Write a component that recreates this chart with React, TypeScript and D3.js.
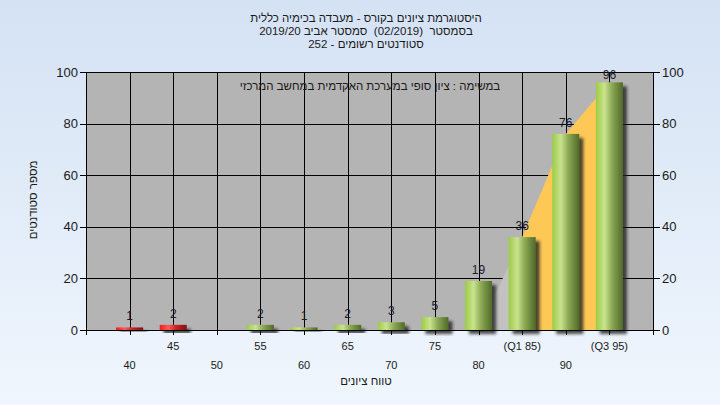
import React from 'react';
import * as d3 from 'd3';

const titleLines = [
  'היסטוגרמת ציונים בקורס - מעבדה בכימיה כללית',
  'בסמסטר  (02/2019)  סמסטר אביב 2019/20',
  'סטודנטים רשומים - 252',
];
const subtitle = 'במשימה : ציון סופי במערכת האקדמית במחשב המרכזי';
const yTitle = 'מספר סטודנטים';
const xTitle = 'טווח ציונים';

const grades = [40, 45, 50, 55, 60, 65, 70, 75, 80, 85, 90, 95];
const gradeLabels = ['40', '45', '50', '55', '60', '65', '70', '75', '80', '(Q1 85)', '90', '(Q3 95)'];
const counts = [1, 2, 0, 2, 1, 2, 3, 5, 19, 36, 76, 96];
const failingGrades = [40, 45, 50];
const yTicks = [0, 20, 40, 60, 80, 100];

// quartile band area series
const areaGrades = [80, 85, 90, 95];
const areaValues = [0, 36, 76, 96];
const q1Grade = 85;

const W = 720;
const H = 405;
const L = 86;
const R = 653;
const T = 72;
const B = 330;
const FONT = '"Liberation Sans", Arial, "DejaVu Sans", sans-serif';

export default function App() {
  const x = d3.scaleLinear().domain([35, 100]).range([L, R]);
  const y = d3.scaleLinear().domain([0, 100]).range([B, T]);
  const half = 1.55;

  const areaPts = areaGrades.map((g, i) => ({ g, v: areaValues[i] }));
  const areaGen = d3
    .area<{ g: number; v: number }>()
    .x((d) => x(d.g))
    .y0(y(0))
    .y1((d) => y(d.v));
  const greyPart = areaGen(areaPts.filter((d) => d.g <= q1Grade)) || '';
  const yellowPart = areaGen(areaPts.filter((d) => d.g >= q1Grade)) || '';

  const xTickVals = d3.range(35, 101, 5);

  return (
    <svg
      width={W}
      height={H}
      style={{ position: 'absolute', left: 0, top: 0, fontFamily: FONT }}
    >
      <defs>
        <linearGradient id="bg" x1="0" y1="0" x2="0" y2="1">
          <stop offset="0" stopColor="#d4e2f4" />
          <stop offset="1" stopColor="#f0f6fd" />
        </linearGradient>
        <linearGradient id="green" x1="0" y1="0" x2="1" y2="0">
          <stop offset="0" stopColor="#9ccb45" />
          <stop offset="0.32" stopColor="#c9e38e" />
          <stop offset="0.6" stopColor="#8aa854" />
          <stop offset="1" stopColor="#4f6a28" />
        </linearGradient>
        <linearGradient id="red" x1="0" y1="0" x2="1" y2="0">
          <stop offset="0" stopColor="#f01a1a" />
          <stop offset="0.32" stopColor="#ff5a5a" />
          <stop offset="0.6" stopColor="#c82424" />
          <stop offset="1" stopColor="#801010" />
        </linearGradient>
        <filter id="shadow" x="-20%" y="-20%" width="160%" height="160%">
          <feDropShadow dx="4" dy="4" stdDeviation="1.5" floodColor="#202020" floodOpacity="0.8" />
        </filter>
      </defs>

      <rect x={0} y={0} width={W} height={H} fill="url(#bg)" />
      <rect x={L} y={T} width={R - L} height={B - T} fill="#b4b4b4" />

      {/* grid */}
      {yTicks.map((t) => (
        <line key={'gy' + t} x1={L} x2={R} y1={Math.round(y(t)) + 0.5} y2={Math.round(y(t)) + 0.5} stroke="#000" strokeWidth={1} />
      ))}
      {grades.map((g) => (
        <line key={'gx' + g} x1={Math.round(x(g)) + 0.5} x2={Math.round(x(g)) + 0.5} y1={T} y2={B} stroke="#000" strokeWidth={1} />
      ))}

      {/* quartile area */}
      <path d={greyPart} fill="#c2c2c2" />
      <path d={yellowPart} fill="#fdc856" />

      {/* bars */}
      {grades.map((g, i) =>
        counts[i] > 0 ? (
          <rect
            key={'b' + g}
            x={x(g - half)}
            y={y(counts[i])}
            width={x(g + half) - x(g - half)}
            height={y(0) - y(counts[i])}
            fill={failingGrades.includes(g) ? 'url(#red)' : 'url(#green)'}
            filter="url(#shadow)"
          />
        ) : null
      )}

      {/* value labels */}
      {grades.map((g, i) =>
        counts[i] > 0 ? (
          <text
            key={'v' + g}
            x={x(g)}
            y={Math.max(y(counts[i]) - 7, T + 7)}
            textAnchor="middle"
            fontSize={12}
            fill="#1a1a2a"
          >
            {counts[i]}
          </text>
        ) : null
      )}

      {/* axes */}
      <line x1={L + 0.5} x2={L + 0.5} y1={T} y2={B + 4} stroke="#000" />
      <line x1={R + 0.5} x2={R + 0.5} y1={T} y2={B + 4} stroke="#000" />
      <line x1={L} x2={R + 1} y1={B + 0.5} y2={B + 0.5} stroke="#000" />
      {xTickVals.map((t) => (
        <line key={'xt' + t} x1={Math.round(x(t)) + 0.5} x2={Math.round(x(t)) + 0.5} y1={B} y2={B + 5} stroke="#000" />
      ))}
      {yTicks.map((t) => (
        <g key={'yt' + t}>
          <line x1={L - 6} x2={L} y1={Math.round(y(t)) + 0.5} y2={Math.round(y(t)) + 0.5} stroke="#000" />
          <line x1={R} x2={R + 7} y1={Math.round(y(t)) + 0.5} y2={Math.round(y(t)) + 0.5} stroke="#000" />
          <text x={L - 8} y={y(t) + 4.5} textAnchor="end" fontSize={13} fill="#1a1a1a">
            {t}
          </text>
          <text x={R + 9} y={y(t) + 4.5} textAnchor="start" fontSize={13} fill="#1a1a1a">
            {t}
          </text>
        </g>
      ))}

      {/* x tick labels, staggered */}
      {grades.map((g, i) => (
        <text
          key={'xl' + g}
          x={x(g)}
          y={i % 2 === 1 ? 350 : 369}
          textAnchor="middle"
          fontSize={11}
          fill="#1a1a1a"
        >
          {gradeLabels[i]}
        </text>
      ))}

      {/* titles */}
      {titleLines.map((t, i) => (
        <text
          key={'t' + i}
          x={366}
          y={22 + i * 13}
          textAnchor="middle"
          fontSize={11.5}
          fill="#1a1a1a"
          direction="rtl"
          style={{ whiteSpace: 'pre' }}
        >
          {t}
        </text>
      ))}
      <text x={370} y={90} textAnchor="middle" fontSize={11.5} fill="#1a1a1a" direction="rtl">
        {subtitle}
      </text>
      <text x={366} y={385} textAnchor="middle" fontSize={11.5} fill="#1a1a1a" direction="rtl">
        {xTitle}
      </text>
      <text
        x={0}
        y={0}
        transform={`translate(37,200) rotate(-90)`}
        textAnchor="middle"
        fontSize={11.5}
        fill="#1a1a1a"
        direction="rtl"
      >
        {yTitle}
      </text>
    </svg>
  );
}
